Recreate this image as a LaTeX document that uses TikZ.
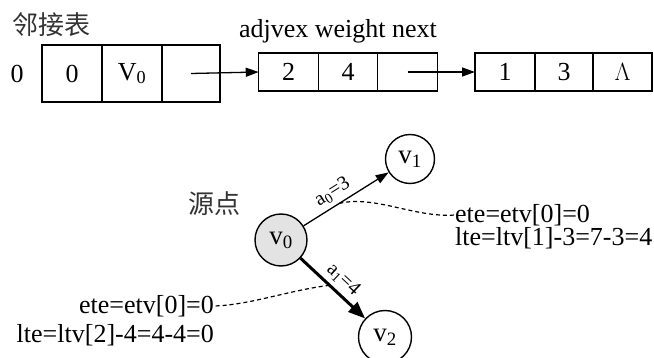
\documentclass[tikz,border=0pt]{standalone}
\usepackage{fontspec}
\setmainfont{Liberation Serif}
\newfontfamily\cjk{Noto Sans CJK SC}
\usetikzlibrary{arrows.meta,calc}
\begin{document}
\begin{tikzpicture}[x=1pt,y=-1pt,
  txt/.style={font=\fontsize{26}{28}\selectfont, inner sep=0pt},
  cjktxt/.style={font=\fontsize{26}{28}\selectfont\cjk, inner sep=0pt, text=black!80},
  cell/.style={draw, line width=1.4pt, inner sep=0pt, outer sep=0pt, minimum height=#1, font=\fontsize{26}{28}\selectfont},
  vert/.style={circle, draw, line width=1.4pt, inner sep=0pt, font=\fontsize{27}{29}\selectfont},
  link/.style={line width=1.3pt, -{Triangle[length=13pt,width=9pt]}},
  edgelab/.style={font=\fontsize{20}{22}\selectfont, inner sep=4pt},
  dashlink/.style={line width=1.2pt, dash pattern=on 4pt off 3pt}
]
\useasboundingbox (0,0) rectangle (654,358);

% title and header
\node[cjktxt, anchor=west] (title) at (12,25) {邻接表};
\node[txt] (idx) at (17,74) {0};
\node[txt] (head) at (338,31) {adjvex weight next};

% first record
\node[cell=57pt, minimum width=60pt] (c11) at (72,73.5) {0};
\node[cell=57pt, minimum width=60pt] (c12) at (132,73.5) {V\textsubscript{0}};
\node[cell=57pt, minimum width=58pt] (c13) at (191,73.5) {};
% second record
\node[cell=38pt, minimum width=59.5pt] (c21) at (288.5,72) {2};
\node[cell=38pt, minimum width=59.5pt] (c22) at (348,72) {4};
\node[cell=38pt, minimum width=59.5pt] (c23) at (407.5,72) {};
% third record
\node[cell=38pt, minimum width=60pt] (c31) at (505,72) {1};
\node[cell=38pt, minimum width=58pt] (c32) at (564,72) {3};
\node[cell=38pt, minimum width=59pt] (c33) at (622.5,72) {$\Lambda$};

\draw[link] (c13.center) -- (c21.west);
\draw[link] (c23.center) -- (c31.west);

% graph
\node[cjktxt] (src) at (214,204) {源点};
\node[vert, fill=gray!22, minimum size=52pt] (v0) at (281,240) {v\textsubscript{0}};
\node[vert, minimum size=49pt] (v1) at (410,159) {v\textsubscript{1}};
\node[vert, minimum size=53pt] (v2) at (385,337) {v\textsubscript{2}};

\draw[link] (v0) -- node[edgelab, sloped, above, pos=0.42] {a\textsubscript{0}=3} coordinate[pos=0.42] (m1) (v1);
\draw[line width=3pt, -{Triangle[length=17pt,width=13pt]}] (v0) -- node[edgelab, sloped, above, pos=0.52] {a\textsubscript{1}=4} coordinate[pos=0.45] (m2) (v2);

\node[txt, anchor=west] (ete1) at (455,215) {ete=etv[0]=0};
\node[txt, anchor=west] (lte1) at (455,238) {lte=ltv[1]-3=7-3=4};
\node[txt, anchor=east] (ete2) at (214,306) {ete=etv[0]=0};
\node[txt, anchor=east] (lte2) at (214,335) {lte=ltv[2]-4=4-4=0};

\draw[dashlink] (m1) .. controls (375,195) and (415,218) .. (ete1.west);
\draw[dashlink] (m2) .. controls (290,290) and (250,305) .. (ete2.east);
\end{tikzpicture}
\end{document}
